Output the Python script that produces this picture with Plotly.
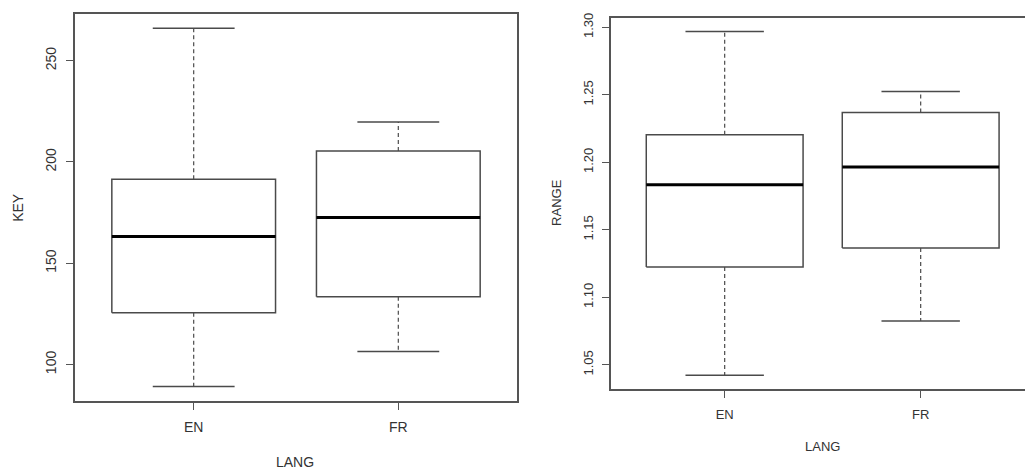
import plotly.graph_objects as go

W, H = 1025, 471

langs = ["EN", "FR"]

key_min = [89.2, 106.4]
key_q1 = [125.6, 133.4]
key_med = [163.2, 172.6]
key_q3 = [191.5, 205.4]
key_max = [266.0, 219.7]

rng_min = [1.0424, 1.0824]
rng_q1 = [1.1225, 1.1365]
rng_med = [1.1834, 1.1966]
rng_q3 = [1.2204, 1.2368]
rng_max = [1.2968, 1.2525]

key_ticks = [100, 150, 200, 250]
rng_ticks = [1.05, 1.10, 1.15, 1.20, 1.25, 1.30]

BOX_HALF = 0.4
CAP_HALF = 0.2
LINE_C = "#4a4a4a"
TEXT_C = "#333333"

fig = go.Figure()


def add_boxes(xa, ya, mins, q1s, meds, q3s, maxs):
    for i in range(len(langs)):
        x = i + 1
        # whiskers (dashed)
        fig.add_trace(go.Scatter(
            x=[x, x, None, x, x], y=[q3s[i], maxs[i], None, q1s[i], mins[i]],
            mode="lines", line=dict(color=LINE_C, width=1.2, dash="4px,3px"),
            xaxis=xa, yaxis=ya, showlegend=False, hoverinfo="skip"))
        # caps
        fig.add_trace(go.Scatter(
            x=[x - CAP_HALF, x + CAP_HALF, None, x - CAP_HALF, x + CAP_HALF],
            y=[maxs[i], maxs[i], None, mins[i], mins[i]],
            mode="lines", line=dict(color=LINE_C, width=1.5),
            xaxis=xa, yaxis=ya, showlegend=False, hoverinfo="skip"))
        # box
        fig.add_trace(go.Scatter(
            x=[x - BOX_HALF, x + BOX_HALF, x + BOX_HALF, x - BOX_HALF, x - BOX_HALF],
            y=[q1s[i], q1s[i], q3s[i], q3s[i], q1s[i]],
            mode="lines", line=dict(color=LINE_C, width=1.5),
            fill="toself", fillcolor="white",
            xaxis=xa, yaxis=ya, showlegend=False, hoverinfo="skip"))
        # median
        fig.add_trace(go.Scatter(
            x=[x - BOX_HALF, x + BOX_HALF], y=[meds[i], meds[i]],
            mode="lines", line=dict(color="black", width=3),
            xaxis=xa, yaxis=ya, showlegend=False, hoverinfo="skip"))


add_boxes("x", "y", key_min, key_q1, key_med, key_q3, key_max)
add_boxes("x2", "y2", rng_min, rng_q1, rng_med, rng_q3, rng_max)


def rrange(lo, hi):
    d = (hi - lo) * 0.04
    return [lo - d, hi + d]


key_lo, key_hi = min(key_min), max(key_max)
rng_lo, rng_hi = min(rng_min), max(rng_max)

font_l = dict(family="Liberation Sans, Arial, sans-serif", size=14, color=TEXT_C)
font_r = dict(family="Liberation Sans, Arial, sans-serif", size=13, color=TEXT_C)

common_ax = dict(showgrid=False, zeroline=False, showline=True, linecolor="#555555",
                 linewidth=1.5, ticks="outside", tickcolor="#555555", tickwidth=1.2,
                 ticklen=7)

fig.update_layout(
    xaxis=dict(domain=[75 / W, 517 / W], range=[0.42, 2.58], tickvals=[1, 2],
               ticktext=langs, mirror=True, tickfont=font_l, anchor="y",
               ticklabelstandoff=6, **common_ax),
    yaxis=dict(domain=[(H - 400) / H, (H - 9) / H], range=rrange(key_lo, key_hi),
               tickvals=key_ticks, mirror=True, tickangle=-90, tickfont=font_l,
               anchor="x", ticklabelstandoff=5, **common_ax),
    xaxis2=dict(domain=[611 / W, 1.0], range=[0.42, 0.42 + 414 / 196], tickvals=[1, 2],
                ticktext=langs, mirror=True, tickfont=font_r, anchor="y2",
                ticklabelstandoff=6, **common_ax),
    yaxis2=dict(domain=[(H - 388) / H, (H - 13) / H], range=rrange(rng_lo, rng_hi),
                tickvals=rng_ticks, tickformat=".2f", mirror=False, tickangle=-90,
                tickfont=font_r, anchor="x2", ticklabelstandoff=4, **common_ax),
)

annos = [
    dict(text="KEY", x=18 / W, y=1 - 205 / H, textangle=-90, font=font_l),
    dict(text="LANG", x=295 / W, y=1 - 462 / H, textangle=0, font=font_l),
    dict(text="RANGE", x=557 / W, y=1 - 200 / H, textangle=-90, font=font_r),
    dict(text="LANG", x=822 / W, y=1 - 446 / H, textangle=0, font=font_r),
]
for a in annos:
    fig.add_annotation(xref="paper", yref="paper", showarrow=False,
                       xanchor="center", yanchor="middle", **a)

fig.update_layout(width=W, height=H, margin=dict(l=0, r=0, t=0, b=0),
                  paper_bgcolor="white", plot_bgcolor="white", showlegend=False)

fig.write_html("out.html", config={"displayModeBar": False},
               post_script="document.body.style.margin='0';document.body.style.padding='0';")
